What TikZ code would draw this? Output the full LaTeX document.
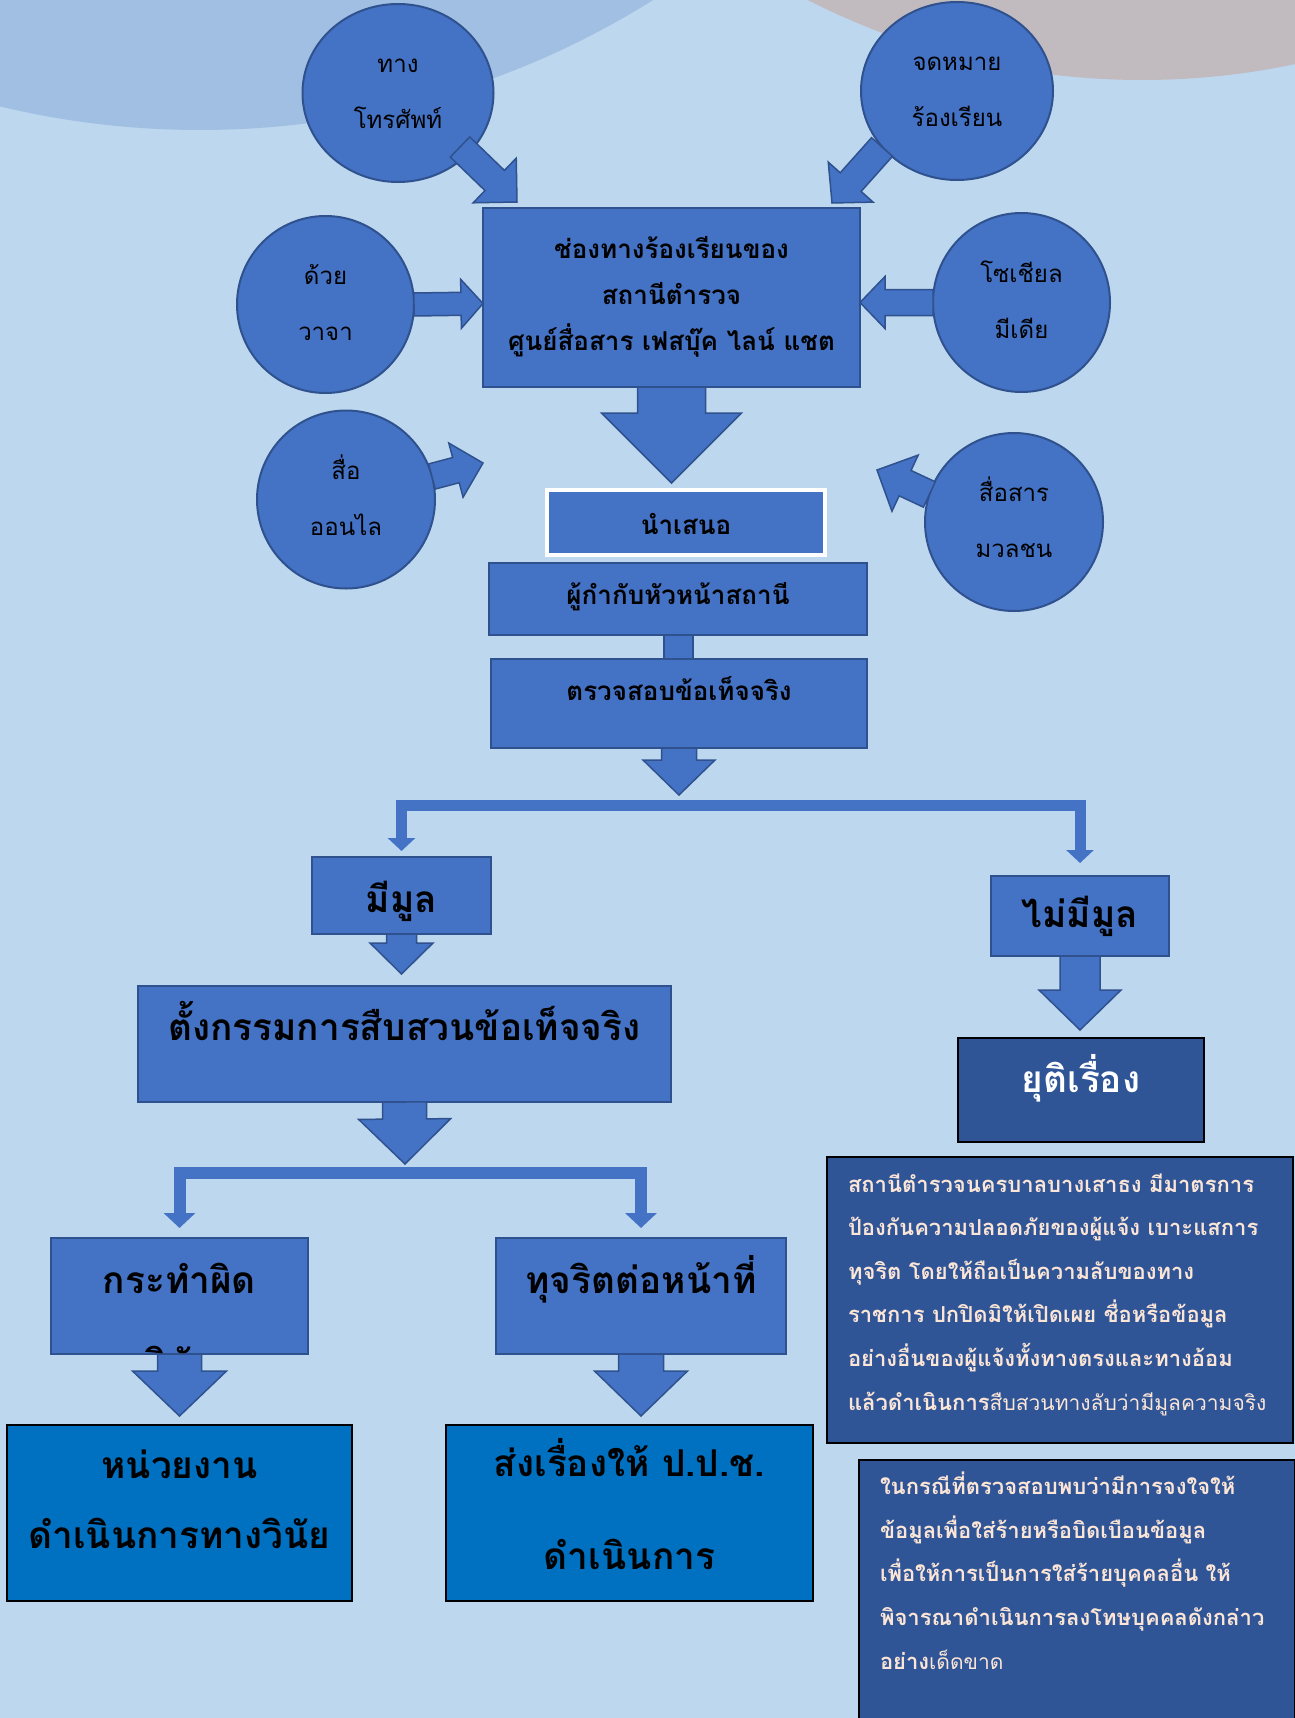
\documentclass[tikz,border=0pt]{standalone}
\usepackage{fontspec}
\setmainfont{Loma}[Script=Thai]
\usetikzlibrary{calc, shapes.geometric, arrows.meta}

\definecolor{bgblue}{HTML}{BDD7EE}
\definecolor{leftdisc}{HTML}{A0BFE3}
\definecolor{rightdisc}{HTML}{C1BABF}
\definecolor{shapeblue}{HTML}{4472C4}
\definecolor{shapeline}{HTML}{2F528F}
\definecolor{deepblue}{HTML}{0070C0}
\definecolor{navyblue}{HTML}{2F5597}
\definecolor{paletext}{HTML}{FBE5D6}

\tikzset{%
	channel/.style={
		ellipse, draw=shapeline, fill=shapeblue, line width=2pt,
		minimum width=178pt, minimum height=178pt, inner sep=0pt, outer sep=0pt,
		align=center, font=\fontsize{24}{56}\selectfont,
		text height=71pt, text depth=0pt
	},
	stepbox/.style={
		rectangle, draw=shapeline, fill=shapeblue, line width=2pt,
		inner sep=0pt, outer sep=0pt, align=center,
		font=\bfseries\fontsize{26}{46}\selectfont
	},
	bigstep/.style={stepbox, font=\bfseries\fontsize{37}{70}\selectfont},
	resultbox/.style={
		rectangle, draw=black, fill=deepblue, line width=1.5pt,
		inner sep=0pt, outer sep=0pt, align=center,
		font=\bfseries\fontsize{37}{70}\selectfont
	},
	closebox/.style={resultbox, fill=navyblue, text=white},
	notebox/.style={rectangle, draw=black, fill=navyblue, line width=1.8pt, inner sep=0pt, outer sep=0pt},
	notetext/.style={inner sep=0pt, outer sep=0pt, align=left, text=paletext,
		font=\bfseries\fontsize{22}{43.6}\selectfont},
	arrowfill/.style={fill=shapeblue, draw=shapeline, line width=1.5pt, line join=miter},
	elbow/.style={draw=shapeblue, line width=11pt, -{Triangle[width=27pt,length=13pt]}},
	elbowwide/.style={draw=shapeblue, line width=12pt, -{Triangle[width=31pt,length=15pt]}},
}

% lighter part of the notes
\newcommand{\plainpart}[1]{{\mdseries\fontsize{21}{43.6}\selectfont #1}}

% block arrow: from, to, shaft half width, head half width, head length
\newcommand{\blockarrow}[5]{%
	\coordinate (hb) at ($(#2)!#5!(#1)$);
	\filldraw[arrowfill] ($(#1)!#3!90:(#2)$) -- ($(hb)!#3!90:(#2)$) -- ($(hb)!#4!90:(#2)$) -- (#2)
		-- ($(hb)!#4!-90:(#2)$) -- ($(hb)!#3!-90:(#2)$) -- ($(#1)!#3!-90:(#2)$) -- cycle;
}

\begin{document}
\begin{tikzpicture}[x=1pt,y=-1pt]
	\useasboundingbox (0,0) rectangle (1295,1718);
	% Background with the two large discs
	\fill[bgblue] (0,0) rectangle (1295,1718);
	\begin{scope}
		\clip (0,0) rectangle (1295,1718);
		\fill[leftdisc] (200,-724) circle[radius=854];
		\fill[rightdisc] (1142,-657) circle[radius=737];
	\end{scope}
	
	% Complaint channels
	\node[channel, minimum width=191pt] (phone) at (398,93) {ทาง\\โทรศัพท์};
	\node[channel, minimum width=192pt] (letter) at (957,91) {จดหมาย\\ร้องเรียน};
	\node[channel, minimum width=177pt, minimum height=177pt] (speech) at (325.5,304.5) {ด้วย\\วาจา};
	\node[channel] (online) at (346,499.5) {สื่อ\\ออนไล};
	\node[channel, minimum width=177pt, minimum height=179pt] (social) at (1021.5,302.5) {โซเชียล\\มีเดีย};
	\node[channel] (mass) at (1014,522) {สื่อสาร\\มวลชน};
	
	% Main box
	\node[stepbox, minimum width=377pt, minimum height=179pt, text height=106pt, text depth=0pt] (main) at (671.5,297.5)
		{ช่องทางร้องเรียนของ\\สถานีตำรวจ\\ศูนย์สื่อสาร เฟสบุ๊ค ไลน์ แชต};
	
	% Arrows from the channels
	\coordinate (p1) at (460,147);
	\coordinate (p1e) at (517,202);
	\blockarrow{p1}{p1e}{14pt}{31pt}{31pt}
	\coordinate (p2) at (882,147);
	\coordinate (p2e) at (832,203);
	\blockarrow{p2}{p2e}{14pt}{30pt}{28pt}
	\coordinate (p3e) at ($(main.west)+(0,6)$);
	\blockarrow{speech.east}{p3e}{11.5pt}{24.5pt}{22pt}
	\coordinate (p5e) at ($(main.east)+(0,5)$);
	\blockarrow{social.west}{p5e}{13pt}{26pt}{25pt}
	\coordinate (p4e) at (483,463);
	\blockarrow{online.15}{p4e}{13pt}{28pt}{28pt}
	\coordinate (p6e) at (877,470);
	\blockarrow{mass.162}{p6e}{14pt}{31pt}{31pt}
	
	% Central column
	\node[stepbox, draw=white, line width=4pt, minimum width=278pt, minimum height=65pt, text height=23pt, text depth=0pt] (present) at (686,522.5) {นำเสนอ};
	\node[stepbox, minimum width=378pt, minimum height=72pt, text height=14pt, text depth=4pt] (chief) at (678,599) {ผู้กำกับหัวหน้าสถานี};
	\node[stepbox, minimum width=376pt, minimum height=89pt, text height=14pt, text depth=21pt] (check) at (679,703.5) {ตรวจสอบข้อเท็จจริง};
	\coordinate (t1) at ($(main.south |- present.north)+(0,-7)$);
	\blockarrow{main.south}{t1}{34pt}{70pt}{70pt}
	\filldraw[arrowfill] ($(chief.south)+(-14,0)$) rectangle ($(check.north)+(14,0)$);
	
	% First split
	\node[bigstep, minimum width=179pt, minimum height=77pt, text height=33pt, text depth=0pt] (mimul) at (401.5,895.5) {มีมูล};
	\node[bigstep, minimum width=178pt, minimum height=80pt, text height=22pt, text depth=0pt] (nomul) at (1080,916) {ไม่มีมูล};
	\coordinate (fork1) at (679,805.5);
	\coordinate (t2) at ($(fork1)+(0,-10.5)$);
	\blockarrow{check.south}{t2}{17.5pt}{36pt}{35pt}
	\draw[elbow] (fork1) -| ($(mimul.north)+(0,-6)$);
	\draw[elbow] (fork1) -| ($(nomul.north)+(0,-13)$);
	
	\node[bigstep, minimum width=533pt, minimum height=116pt, text height=20pt, text depth=28pt] (committee) at (404.5,1044) {ตั้งกรรมการสืบสวนข้อเท็จจริง};
	\node[closebox, minimum width=246pt, minimum height=104pt, text height=20pt, text depth=16pt] (endcase) at (1081,1090) {ยุติเรื่อง};
	\coordinate (t3) at ($(mimul.south |- committee.north)+(0,-12)$);
	\blockarrow{mimul.south}{t3}{15pt}{31.5pt}{31pt}
	\coordinate (t4) at ($(nomul.south |- endcase.north)+(0,-8)$);
	\blockarrow{nomul.south}{t4}{20pt}{41pt}{40pt}
	
	% Second split
	\node[bigstep, minimum width=257pt, minimum height=116pt, text height=20pt, text depth=26pt] (kratham) at (179.5,1296) {กระทำผิด};
	\begin{scope}
		\clip (kratham.south west) rectangle (kratham.north east);
		\node[font=\bfseries\fontsize{37}{70}\selectfont, inner sep=0pt, anchor=base] (kratham2) at (179.5,1376) {วินัย};
	\end{scope}
	\node[bigstep, minimum width=290pt, minimum height=116pt, text height=20pt, text depth=26pt] (tujarit) at (641,1296) {ทุจริตต่อหน้าที่};
	\coordinate (fork2) at (405,1173);
	\coordinate (t5) at ($(fork2)+(0,-9)$);
	\blockarrow{committee.south}{t5}{22pt}{46pt}{45pt}
	\draw[elbowwide] (fork2) -| ($(kratham.north)+(0,-10)$);
	\draw[elbowwide] (fork2) -| ($(tujarit.north)+(0,-10)$);
	
	% Outcomes
	\node[resultbox, minimum width=345pt, minimum height=176pt, text height=90pt, text depth=20pt] (unit) at (179.5,1513) {หน่วยงาน\\ดำเนินการทางวินัย};
	\node[resultbox, minimum width=367pt, minimum height=176pt, text height=113pt, text depth=0pt] (nacc) at (629.5,1513) {ส่งเรื่องให้ ป.ป.ช.\\[23pt]ดำเนินการ};
	\coordinate (t6) at ($(kratham.south |- unit.north)+(0,-9)$);
	\blockarrow{kratham.south}{t6}{22pt}{47pt}{45pt}
	\coordinate (t7) at ($(tujarit.south |- nacc.north)+(0,-9)$);
	\blockarrow{tujarit.south}{t7}{22.5pt}{46.5pt}{45pt}
	
	% Notes on the right
	\node[notebox, minimum width=466pt, minimum height=286pt, anchor=north west] (policybox) at (827,1157) {};
	\node[notetext, anchor=north west, text height=230pt, text depth=0pt] (policy) at (848,1180) {%
		สถานีตำรวจนครบาลบางเสาธง มีมาตรการ\\
		ป้องกันความปลอดภัยของผู้แจ้ง เบาะแสการ\\
		ทุจริต โดยให้ถือเป็นความลับของทาง\\
		ราชการ ปกปิดมิให้เปิดเผย ชื่อหรือข้อมูล\\
		อย่างอื่นของผู้แจ้งทั้งทางตรงและทางอ้อม\\
		แล้วดำเนินการ\plainpart{สืบสวนทางลับว่ามีมูลความจริง}};
	\node[notebox, minimum width=436pt, minimum height=300pt, anchor=north west] (advicebox) at (859,1460) {};
	\node[notetext, anchor=north west, text height=187pt, text depth=0pt] (advice) at (880,1482) {%
		ในกรณีที่ตรวจสอบพบว่ามีการจงใจให้\\
		ข้อมูลเพื่อใส่ร้ายหรือบิดเบือนข้อมูล\\
		เพื่อให้การเป็นการใส่ร้ายบุคคลอื่น ให้\\
		พิจารณาดำเนินการลงโทษบุคคลดังกล่าว\\
		อย่าง\plainpart{เด็ดขาด}};
\end{tikzpicture}
\end{document}
